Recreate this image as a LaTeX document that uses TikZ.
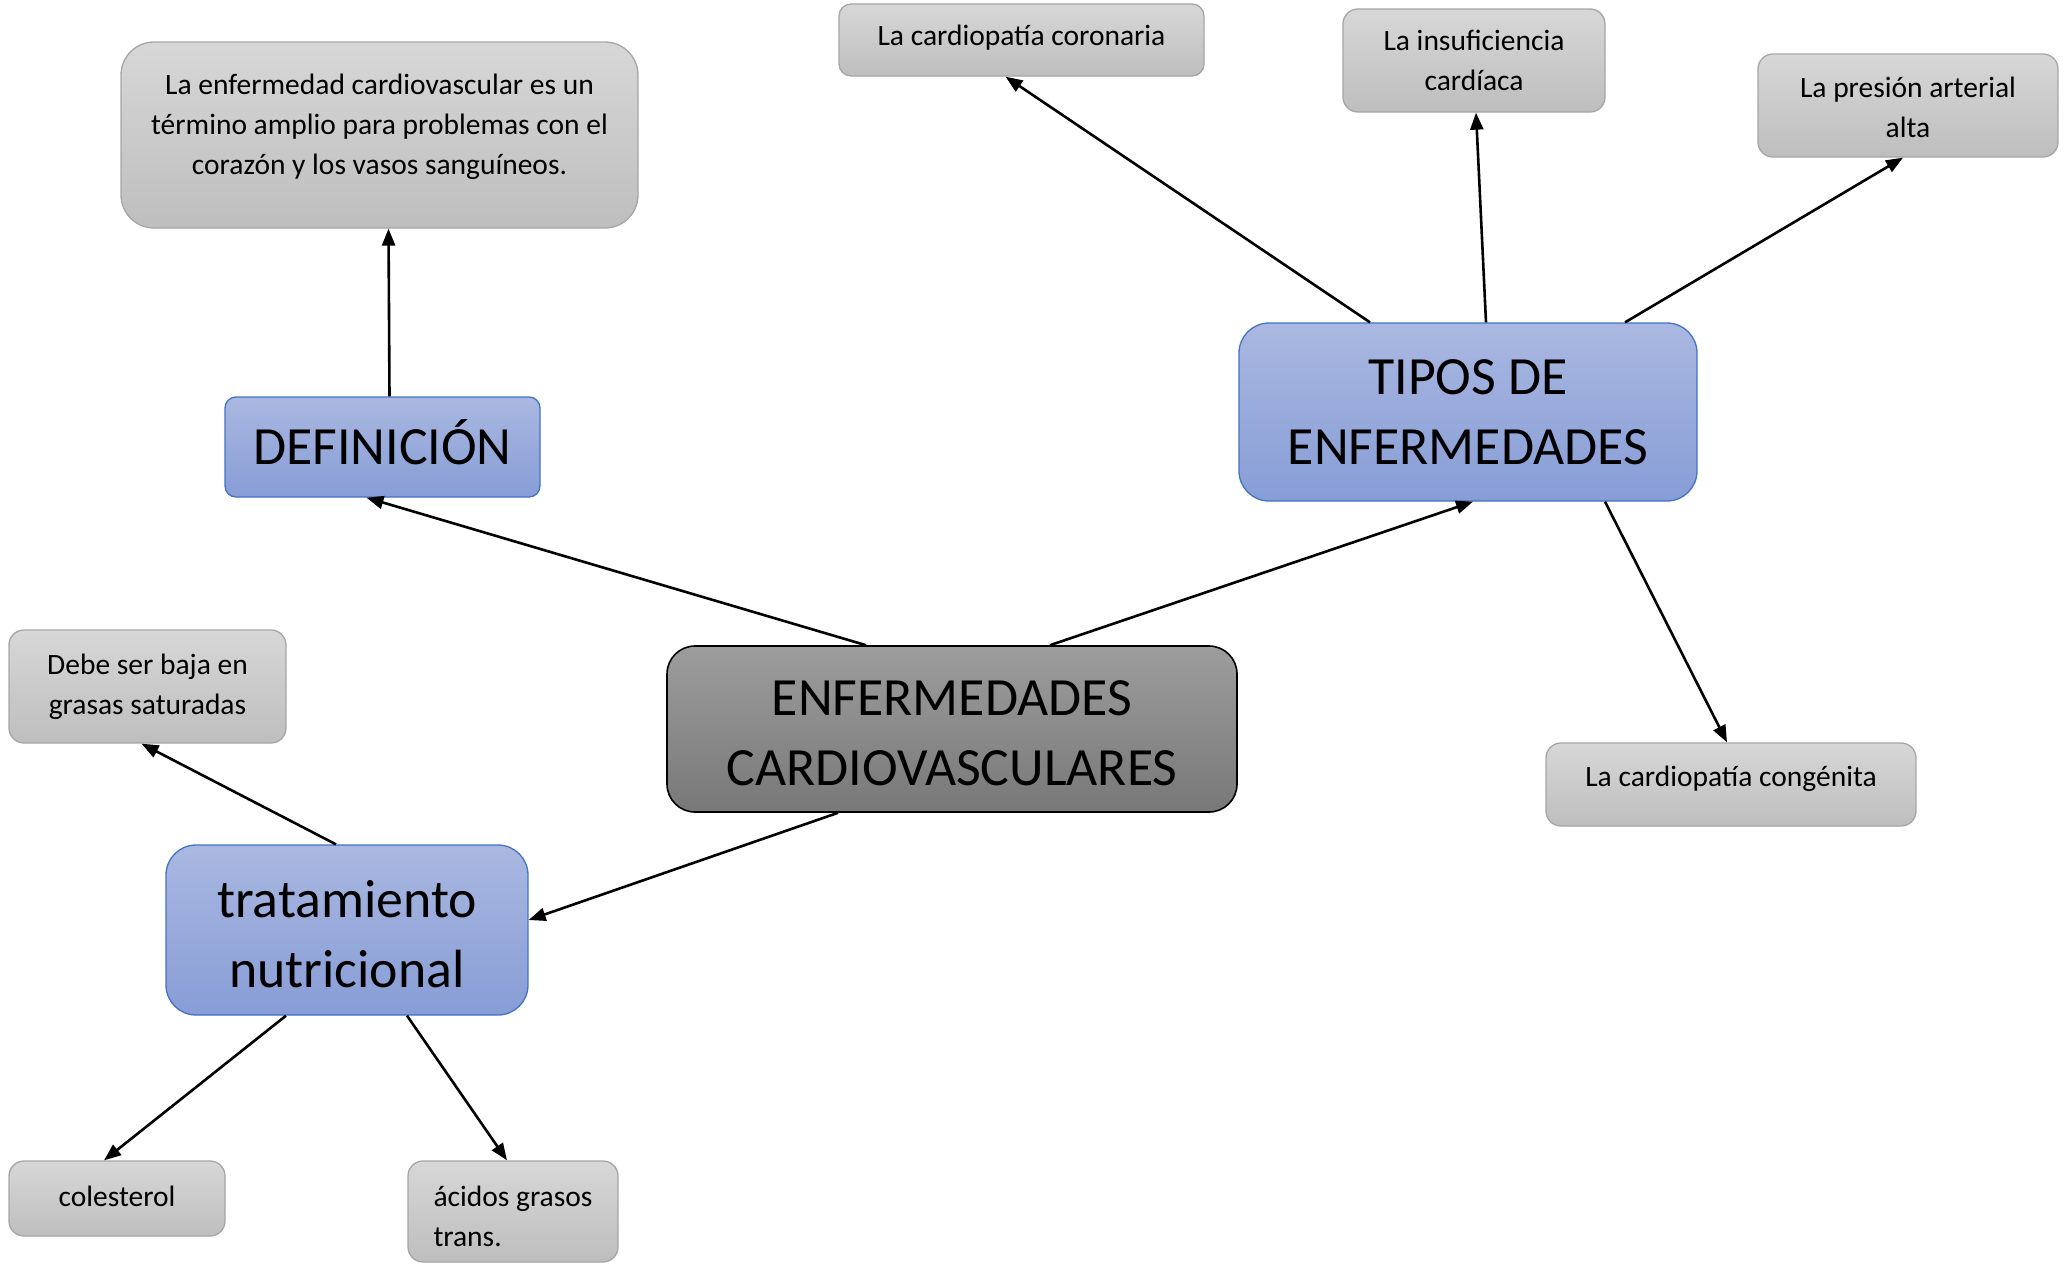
\documentclass[tikz,border=0pt]{standalone}
\usepackage{fontspec}
\setmainfont{Carlito}
\usetikzlibrary{arrows.meta,calc}
\definecolor{gtop}{HTML}{D7D7D7}
\definecolor{gbot}{HTML}{BEBEBE}
\definecolor{gline}{HTML}{A6A6A6}
\definecolor{btop}{HTML}{AAB8E1}
\definecolor{bbot}{HTML}{879DD6}
\definecolor{bline}{HTML}{4472C4}
\definecolor{ctop}{HTML}{9D9D9D}
\definecolor{cbot}{HTML}{787878}
\newcommand{\liftc}[2]{\raisebox{#1}[0pt][0pt]{\begin{tabular}{@{}c@{}}#2\end{tabular}}}
\newcommand{\liftl}[2]{\raisebox{#1}[0pt][0pt]{\begin{tabular}{@{}l@{}}#2\end{tabular}}}
\newcommand{\liftone}[2]{\raisebox{#1}[0pt][0pt]{#2}}
\begin{document}
\begin{tikzpicture}[x=1pt,y=-1pt,
  graybox/.style={draw=gline, top color=gtop, bottom color=gbot, rounded corners=15pt,
    font=\fontsize{29.5}{40}\selectfont, inner sep=0pt, align=center, line width=1.3pt},
  bluebox/.style={draw=bline, top color=btop, bottom color=bbot, rounded corners=30pt,
    font=\fontsize{53.8}{70}\selectfont, inner sep=0pt, align=center, line width=1.3pt},
  centralbox/.style={draw=black, top color=ctop, bottom color=cbot, rounded corners=28pt,
    font=\fontsize{53.8}{70}\selectfont, inner sep=0pt, align=center, line width=1.6pt},
  conn/.style={-{Triangle[length=17pt,width=13pt]}, line width=2.6pt, black}
]
\useasboundingbox (0,0) rectangle (2066,1267);
\fill[white] (0,0) rectangle (2066,1267);

% main nodes
\node[centralbox, minimum width=570pt, minimum height=166pt] (c) at (952,729)
  {\liftc{-13.3pt}{ENFERMEDADES\\CARDIOVASCULARES}};
\node[bluebox, minimum width=315pt, minimum height=100pt, rounded corners=11pt] (defi) at (382.5,447)
  {\liftone{-17.5pt}{DEFINICIÓN}};
\node[bluebox, minimum width=458pt, minimum height=178pt] (tipos) at (1468,412)
  {TIPOS DE\\ENFERMEDADES};
\node[bluebox, minimum width=362pt, minimum height=170pt] (trat) at (347,930)
  {\liftc{-14.7pt}{tratamiento\\nutricional}};

% leaf nodes
\node[graybox, minimum width=517pt, minimum height=186pt, rounded corners=33pt] (def) at (379.5,135)
  {\liftc{2.5pt}{La enfermedad cardiovascular es un\\término amplio para problemas con el\\corazón y los vasos sanguíneos.}};
\node[graybox, minimum width=365pt, minimum height=72pt, rounded corners=12pt] (coron) at (1021.5,40)
  {\liftone{-5.3pt}{La cardiopatía coronaria}};
\node[graybox, minimum width=262pt, minimum height=103pt] (insuf) at (1474,60.5)
  {La insuficiencia\\cardíaca};
\node[graybox, minimum width=300pt, minimum height=103pt] (presion) at (1908,105.5)
  {\liftc{-9.9pt}{La presión arterial\\alta}};
\node[graybox, minimum width=370pt, minimum height=83pt] (congen) at (1731,784.5)
  {\liftone{-2.1pt}{La cardiopatía congénita}};
\node[graybox, minimum width=277pt, minimum height=113pt] (debe) at (147.5,686.5)
  {Debe ser baja en\\grasas saturadas};
\node[graybox, minimum width=216pt, minimum height=75pt] (coles) at (117,1198.5)
  {\liftone{-7.5pt}{colesterol}};
\node[graybox, minimum width=210pt, minimum height=101pt] (acidos) at (513,1211.5)
  {\liftl{-13.2pt}{ácidos grasos\\trans.}};

% connectors
\draw[conn] ([xshift=-86pt]c.north) -- ([xshift=-16pt]defi.south);
\draw[conn] ([xshift=98pt]c.north) -- ([xshift=5pt]tipos.south);
\draw[conn] ([xshift=-114pt]c.south) -- ([yshift=10pt]trat.east);
\draw[conn] ([xshift=7pt]defi.north) -- ([xshift=9pt]def.south);
\draw[conn] ([xshift=-98pt]tipos.north) -- ([xshift=-16pt]coron.south);
\draw[conn] ([xshift=18pt]tipos.north) -- ([xshift=2pt]insuf.south);
\draw[conn] ([xshift=157pt]tipos.north) -- ([xshift=-5pt]presion.south);
\draw[conn] ([xshift=137pt]tipos.south) -- ([xshift=-4pt]congen.north);
\draw[conn] ([xshift=-11pt]trat.north) -- ([xshift=-6pt]debe.south);
\draw[conn] ([xshift=-61pt]trat.south) -- ([xshift=-13pt]coles.north);
\draw[conn] ([xshift=60pt]trat.south) -- ([xshift=-6pt]acidos.north);
\end{tikzpicture}
\end{document}
